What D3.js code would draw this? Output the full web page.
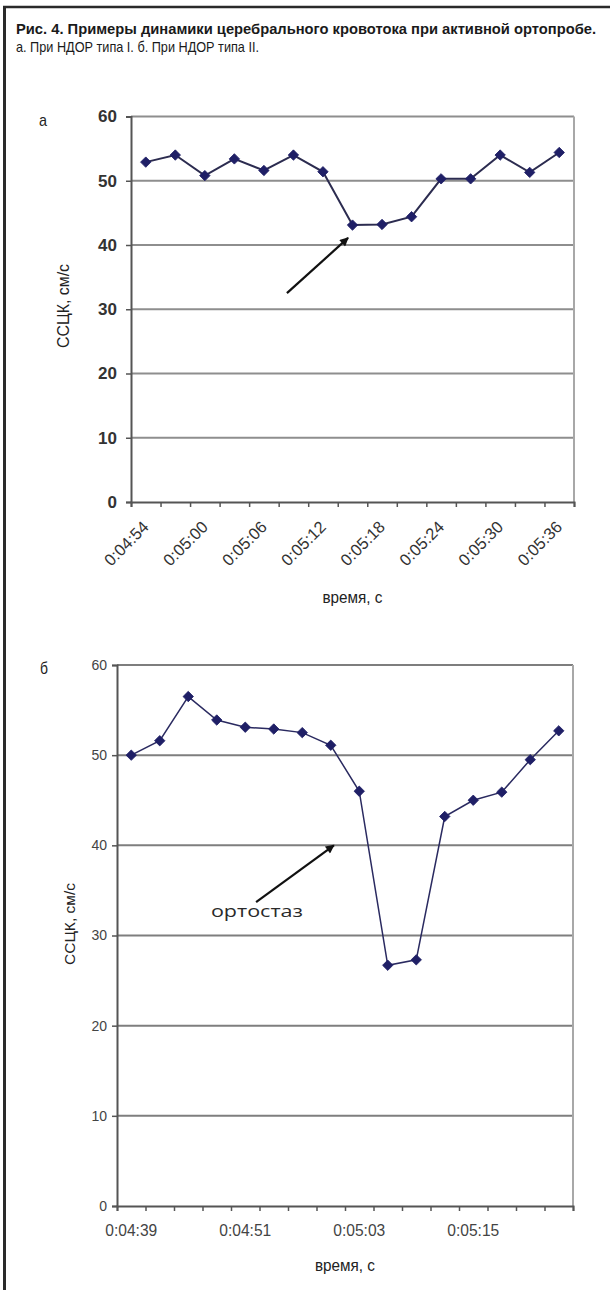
<!DOCTYPE html>
<html>
<head>
<meta charset="utf-8">
<script src="https://cdn.jsdelivr.net/npm/d3@7/dist/d3.min.js"></script>
<style>
  html, body { margin: 0; padding: 0; background: #fff; }
  svg { display: block; }
</style>
</head>
<body>
<svg id="fig" width="610" height="1290"></svg>
<script>
// ---- DATA ----
const titleText = "Рис. 4. Примеры динамики церебрального кровотока при активной ортопробе.";
const subtitleText = "а. При НДОР типа I. б. При НДОР типа II.";

const catsA = ["0:04:54","0:04:57","0:05:00","0:05:03","0:05:06","0:05:09","0:05:12","0:05:15",
               "0:05:18","0:05:21","0:05:24","0:05:27","0:05:30","0:05:33","0:05:36"];
const valsA = [52.9, 54.0, 50.8, 53.4, 51.6, 54.0, 51.4, 43.1, 43.2, 44.4, 50.3, 50.3, 54.0, 51.3, 54.4];
const tickLabelsA = ["0:04:54","0:05:00","0:05:06","0:05:12","0:05:18","0:05:24","0:05:30","0:05:36"];

const catsB = ["0:04:39","0:04:42","0:04:45","0:04:48","0:04:51","0:04:54","0:04:57","0:05:00",
               "0:05:03","0:05:06","0:05:09","0:05:12","0:05:15","0:05:18","0:05:21","0:05:24"];
const valsB = [50.0, 51.6, 56.5, 53.9, 53.1, 52.9, 52.5, 51.1, 46.0, 26.7, 27.3, 43.2, 45.0, 45.9, 49.5, 52.7];
const tickLabelsB = ["0:04:39","0:04:51","0:05:03","0:05:15"];

const yTicks = [0, 10, 20, 30, 40, 50, 60];
const yTitle = "ССЦК, см/с";
const xTitle = "время, с";
// annotation arrows in data coordinates: [category boundary position, value]
const arrowA = { from: [5.28, 32.5], to: [7.35, 41.1] };
const arrowB = { from: [4.88, 33.7], to: [7.61, 40.0], label: "ортостаз", labelAt: [4.91, 32.05] };

// ---- DRAW ----
const svg = d3.select("#fig");
svg.append("rect").attr("width", 610).attr("height", 1290).attr("fill", "#fff");

const sans = "Liberation Sans, Arial, sans-serif";

// frame
svg.append("line").attr("x1", 4.5).attr("x2", 4.5).attr("y1", 6).attr("y2", 1290)
  .attr("stroke", "#2a2a2a").attr("stroke-width", 3);
svg.append("line").attr("x1", 3).attr("x2", 610).attr("y1", 7).attr("y2", 7)
  .attr("stroke", "#2a2a2a").attr("stroke-width", 2.5);

svg.append("text").attr("x", 16).attr("y", 34)
  .attr("font-family", sans).attr("font-weight", "bold")
  .attr("font-size", 14).attr("fill", "#1a1a1a")
  .attr("textLength", 580).attr("lengthAdjust", "spacingAndGlyphs")
  .text(titleText);
svg.append("text").attr("x", 16).attr("y", 52)
  .attr("font-family", sans)
  .attr("font-size", 15).attr("fill", "#1a1a1a")
  .attr("textLength", 243).attr("lengthAdjust", "spacingAndGlyphs")
  .text(subtitleText);

const defs = svg.append("defs");
defs.append("marker").attr("id", "ah").attr("viewBox", "0 0 10 10")
  .attr("refX", 9).attr("refY", 5).attr("markerWidth", 5).attr("markerHeight", 4)
  .attr("orient", "auto").attr("markerUnits", "strokeWidth")
  .append("path").attr("d", "M0,0 L10,5 L0,10 z").attr("fill", "#111");

function drawChart(cfg) {
  const g = svg.append("g");
  const n = cfg.cats.length;
  const x = d3.scaleBand().domain(cfg.cats).range([cfg.x0, cfg.x1]).padding(0);
  const xPos = d3.scaleLinear().domain([0, n]).range([cfg.x0, cfg.x1]);
  const y = d3.scaleLinear().domain([0, 60]).range([cfg.y0, cfg.y1]);

  // gridlines
  g.append("g").selectAll("line").data(yTicks.filter(d => d > 0)).join("line")
    .attr("x1", cfg.x0).attr("x2", cfg.x1)
    .attr("y1", d => y(d)).attr("y2", d => y(d))
    .attr("stroke", cfg.gridColor).attr("stroke-width", 2);
  // right border
  g.append("line").attr("x1", cfg.x1).attr("x2", cfg.x1).attr("y1", y(60)).attr("y2", y(0))
    .attr("stroke", "#a8a8a8").attr("stroke-width", 2);

  // y axis
  const ya = g.append("g").attr("transform", `translate(${cfg.x0},0)`)
    .call(d3.axisLeft(y).tickValues(yTicks).tickSize(5).tickPadding(cfg.yTickPad).tickFormat(d3.format("d")));
  ya.select(".domain").attr("stroke", "#555").attr("stroke-width", 2);
  ya.selectAll(".tick line").attr("stroke", "#555").attr("stroke-width", 1.5);
  ya.selectAll(".tick text").attr("font-family", sans).attr("font-size", cfg.yTickSize)
    .attr("fill", cfg.tickColor).attr("font-weight", cfg.yTickWeight);

  // x axis ticks at band boundaries
  const xa = g.append("g").attr("transform", `translate(0,${cfg.y0})`)
    .call(d3.axisBottom(xPos).tickValues(d3.range(n + 1)).tickSize(5).tickFormat(""));
  xa.select(".domain").attr("stroke", "#555").attr("stroke-width", 2);
  xa.selectAll(".tick line").attr("stroke", "#555").attr("stroke-width", 1.5);

  // x labels
  const xl = g.append("g").attr("transform", `translate(0,${cfg.y0})`)
    .call(d3.axisBottom(x).tickValues(cfg.tickLabels).tickSize(0));
  xl.select(".domain").remove();
  const tt = xl.selectAll(".tick text").attr("font-family", sans).attr("font-size", cfg.xTickSize)
    .attr("fill", cfg.tickColor);
  if (cfg.rotate) {
    tt.attr("text-anchor", "end").attr("x", 0).attr("y", 0).attr("dy", "0.35em")
      .attr("transform", `translate(0,${cfg.xTickOff}) rotate(-45)`);
  } else {
    tt.attr("y", cfg.xTickOff).attr("dy", 0)
      .attr("textLength", cfg.xTickLen).attr("lengthAdjust", "spacingAndGlyphs");
  }

  // line + markers
  const cx = (d, i) => x(cfg.cats[i]) + x.bandwidth() / 2;
  const line = d3.line().x((d, i) => cx(d, i)).y(d => y(d));
  g.append("path").datum(cfg.vals).attr("d", line)
    .attr("fill", "none").attr("stroke", cfg.lineColor).attr("stroke-width", cfg.lineWidth);
  g.append("g").selectAll("path").data(cfg.vals).join("path")
    .attr("d", d3.symbol(d3.symbolSquare, 54)())
    .attr("transform", (d, i) => `translate(${cx(d, i)},${y(d)}) rotate(45)`)
    .attr("fill", "#1f1f66").attr("stroke", "#1f1f66").attr("stroke-width", 0.8);

  // arrow (data coordinates)
  const ar = cfg.arrow;
  g.append("line")
    .attr("x1", xPos(ar.from[0])).attr("y1", y(ar.from[1]))
    .attr("x2", xPos(ar.to[0])).attr("y2", y(ar.to[1]))
    .attr("stroke", "#111").attr("stroke-width", 2.2).attr("marker-end", "url(#ah)");
  if (ar.label) {
    g.append("text").attr("x", xPos(ar.labelAt[0])).attr("y", y(ar.labelAt[1]))
      .attr("text-anchor", "middle")
      .attr("font-family", "Open Sans, Noto Sans, sans-serif").attr("font-size", 17)
      .attr("font-weight", 500).attr("fill", "#2a2a2a")
      .attr("textLength", 92).attr("lengthAdjust", "spacingAndGlyphs")
      .text(ar.label);
  }

  // panel letter
  g.append("text").attr("x", cfg.letterX).attr("y", y(60) + 9)
    .attr("font-family", sans).attr("font-size", 17).attr("fill", "#222")
    .attr("textLength", 8).attr("lengthAdjust", "spacingAndGlyphs")
    .text(cfg.letter);

  // axis titles
  g.append("text")
    .attr("transform", `translate(${cfg.yTitleX},${cfg.yTitleY}) rotate(-90)`)
    .attr("text-anchor", "middle").attr("dy", "0.35em")
    .attr("font-family", sans).attr("font-size", cfg.yTitleSize).attr("fill", "#222")
    .attr("textLength", cfg.yTitleLen).attr("lengthAdjust", "spacingAndGlyphs")
    .text(yTitle);
  g.append("text").attr("x", (cfg.x0 + cfg.x1) / 2).attr("y", cfg.xTitleY)
    .attr("text-anchor", "middle")
    .attr("font-family", sans).attr("font-size", 17).attr("fill", "#222")
    .attr("textLength", 60).attr("lengthAdjust", "spacingAndGlyphs")
    .text(xTitle);
}

drawChart({
  cats: catsA, vals: valsA, tickLabels: tickLabelsA,
  x0: 131, x1: 574, y0: 502, y1: 116.5, gridColor: "#8e8e8e",
  tickColor: "#333",
  yTickSize: 17, yTickWeight: "bold", yTickPad: 9, xTickSize: 16.5, xTickOff: 22, rotate: true,
  lineColor: "#2c2c50", lineWidth: 2,
  arrow: arrowA, letter: "а", letterX: 39,
  yTitleX: 63, yTitleY: 306, yTitleSize: 16, yTitleLen: 84, xTitleY: 603
});

drawChart({
  cats: catsB, vals: valsB, tickLabels: tickLabelsB,
  x0: 117, x1: 573, y0: 1206, y1: 665, gridColor: "#7e7e7e",
  tickColor: "#444",
  yTickSize: 14, yTickWeight: "normal", yTickPad: 5, xTickSize: 16, xTickOff: 30, rotate: false, xTickLen: 52,
  lineColor: "#2a2a60", lineWidth: 1.5,
  arrow: arrowB, letter: "б", letterX: 40,
  yTitleX: 70, yTitleY: 924, yTitleSize: 15, yTitleLen: 82, xTitleY: 1271
});
</script>
</body>
</html>
